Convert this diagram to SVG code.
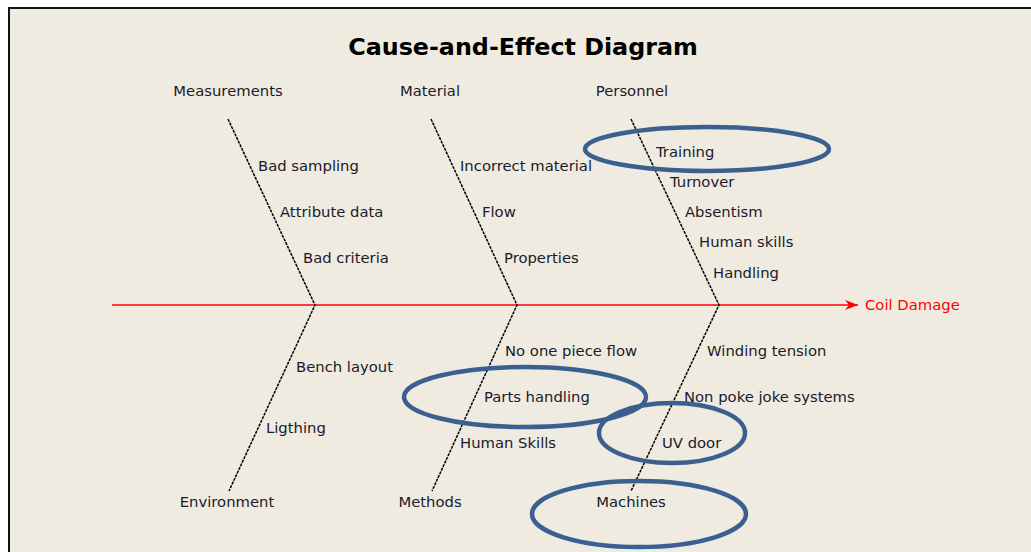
<svg xmlns="http://www.w3.org/2000/svg" width="1031" height="552" viewBox="0 0 1031 552">
<defs>
<style>
.t{font-family:"DejaVu Sans",Verdana,sans-serif;font-size:14.8px;fill:#1a1a2a}
.h{text-anchor:middle}
.title{font-family:"DejaVu Sans",Verdana,sans-serif;font-size:23.8px;font-weight:bold;fill:#000;text-anchor:middle}
.bone{stroke:#000;stroke-width:1.5;stroke-dasharray:3 1;fill:none}
.ring{fill:none;stroke:#3b5f8f;stroke-width:4.5}
</style>
<marker id="ah" markerUnits="userSpaceOnUse" markerWidth="14" markerHeight="12" refX="13" refY="5" orient="auto">
<path d="M0,0 L13,5 L0,10 L4,5 Z" fill="#ff0000"/>
</marker>
</defs>
<rect x="0" y="0" width="1031" height="552" fill="#ffffff"/>
<rect x="9" y="8" width="1022" height="544" fill="#efebe1"/>
<path d="M8,8 H1031 M9,8 V552" stroke="#111" stroke-width="2" fill="none"/>
<g id="title"><text class="title" x="523" y="55">Cause-and-Effect Diagram</text></g>
<g id="connectors">
<line x1="112" y1="305" x2="858" y2="305" stroke="#ff0000" stroke-width="1.4" marker-end="url(#ah)"/>
<path class="bone" d="M228,119 L315,305 L229,491"/>
<path class="bone" d="M431,119 L517,305 L432,491"/>
<path class="bone" d="M631,119 L719,305 L631,491"/>
</g>
<g id="effect"><text x="865" y="310" style="font-family:'DejaVu Sans',Verdana,sans-serif;font-size:14.8px;fill:#ff0000">Coil Damage</text></g>
<g id="measurements">
<text class="t h" x="228" y="96">Measurements</text>
<text class="t" x="258" y="171">Bad sampling</text>
<text class="t" x="280" y="217">Attribute data</text>
<text class="t" x="303" y="263">Bad criteria</text>
</g>
<g id="material">
<text class="t h" x="430" y="96">Material</text>
<text class="t" x="460" y="171">Incorrect material</text>
<text class="t" x="482" y="217">Flow</text>
<text class="t" x="504" y="263">Properties</text>
</g>
<g id="personnel">
<text class="t h" x="632" y="96">Personnel</text>
<text class="t" x="656" y="157">Training</text>
<text class="t" x="670" y="187">Turnover</text>
<text class="t" x="685" y="217">Absentism</text>
<text class="t" x="699" y="247">Human skills</text>
<text class="t" x="713" y="278">Handling</text>
</g>
<g id="environment">
<text class="t h" x="227" y="507">Environment</text>
<text class="t" x="296" y="372">Bench layout</text>
<text class="t" x="266" y="433">Ligthing</text>
</g>
<g id="methods">
<text class="t h" x="430" y="507">Methods</text>
<text class="t" x="505" y="356">No one piece flow</text>
<text class="t" x="484" y="402">Parts handling</text>
<text class="t" x="460" y="448">Human Skills</text>
</g>
<g id="machines">
<text class="t h" x="631" y="507">Machines</text>
<text class="t" x="707" y="356">Winding tension</text>
<text class="t" x="684" y="402">Non poke joke systems</text>
<text class="t" x="662" y="448">UV door</text>
</g>
<g id="highlights">
<ellipse class="ring" cx="707" cy="149" rx="122" ry="22"/>
<ellipse class="ring" cx="525" cy="397" rx="121" ry="30"/>
<ellipse class="ring" cx="672" cy="433" rx="73" ry="30"/>
<ellipse class="ring" cx="639" cy="514" rx="107" ry="33"/>
</g>
</svg>
